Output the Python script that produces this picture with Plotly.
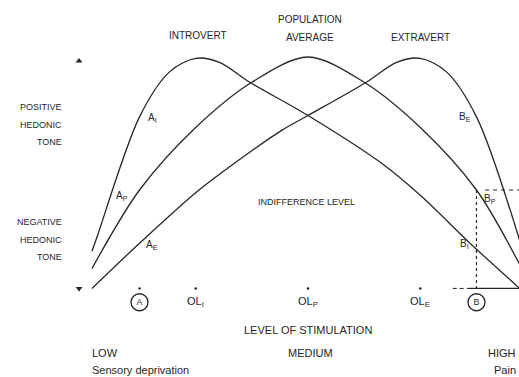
import plotly.graph_objects as go

# Hedonic tone (y) as a function of the level of stimulation (x).
# y = 0 is the indifference level.
intro_x = [0.0, 0.12, 1.1, 1.8, 2.4, 2.95, 3.65, 5.0, 6.75, 7.6, 8.75, 9.9]
intro_y = [-2.3, -1.75, 2.75, 4.45, 4.95, 4.8, 4.05, 2.8, 0.95, -0.2, -2.0, -3.7]

pop_x = [0.0, 1.1, 2.4, 3.7, 5.0, 6.3, 7.6, 8.9, 9.9]
pop_y = [-2.95, 0.0, 2.35, 4.05, 5.0, 4.05, 2.35, 0.0, -2.8]

extra_x = [0.0, 1.1, 2.4, 3.25, 4.4, 5.0, 6.35, 7.05, 7.6, 8.2, 8.9, 9.9]
extra_y = [-3.7, -2.0, -0.1, 0.95, 2.25, 2.8, 4.05, 4.8, 4.95, 4.45, 2.75, -1.9]

ol_labels = ["OL<sub>I</sub>", "OL<sub>P</sub>", "OL<sub>E</sub>"]
ol_x = [2.4, 5.0, 7.6]
point_a = 1.1
point_b = 8.9
floor_y = -3.7
axis_x = -0.3
axis_top = 4.85

INK = "#262626"
FONT = "Liberation Sans, Arial, sans-serif"

fig = go.Figure()

line_style = dict(color=INK, width=1.3, shape="spline", smoothing=0.9)
for xs, ys, name in [(intro_x, intro_y, "Introvert"),
                     (pop_x, pop_y, "Population average"),
                     (extra_x, extra_y, "Extravert")]:
    fig.add_trace(go.Scatter(x=xs, y=ys, mode="lines", line=line_style,
                             name=name, hoverinfo="skip"))

# hedonic tone axis arrows
fig.add_trace(go.Scatter(x=[axis_x, axis_x], y=[axis_top, floor_y], mode="markers",
                         marker=dict(symbol=["triangle-up", "triangle-down"], size=6,
                                     color=INK), hoverinfo="skip"))

# ticks on the stimulation scale
fig.add_trace(go.Scatter(x=[point_a] + ol_x, y=[floor_y] * 4, mode="markers",
                         marker=dict(size=2.5, color=INK), hoverinfo="skip"))

# guide lines at point B
fig.add_trace(go.Scatter(x=[point_b, point_b], y=[0, floor_y], mode="lines",
                         line=dict(color=INK, width=1.2, dash="dot"), hoverinfo="skip"))
fig.add_trace(go.Scatter(x=[point_b + 0.2, 9.9], y=[0, 0], mode="lines",
                         line=dict(color=INK, width=1.0, dash="4px,4px"), hoverinfo="skip"))
fig.add_trace(go.Scatter(x=[point_b - 0.55, point_b - 0.15], y=[floor_y, floor_y], mode="lines",
                         line=dict(color=INK, width=1.0, dash="4px,3px"), hoverinfo="skip"))
fig.add_trace(go.Scatter(x=[point_b - 0.15, 9.9], y=[floor_y, floor_y], mode="lines",
                         line=dict(color=INK, width=1.2), hoverinfo="skip"))

# circled reference points A and B
circle_y = floor_y - 0.52
fig.add_trace(go.Scatter(x=[point_a, point_b], y=[circle_y, circle_y], mode="markers+text",
                         text=["A", "B"], textposition="middle center",
                         textfont=dict(family=FONT, size=9, color=INK),
                         marker=dict(symbol="circle-open", size=17, color=INK,
                                     line=dict(color=INK, width=1.3)),
                         hoverinfo="skip"))


def note(text, x, y, size=10, anchor="center", xref="paper", yref="paper"):
    fig.add_annotation(text=text, x=x, y=y, xref=xref, yref=yref, showarrow=False,
                       xanchor=anchor, yanchor="middle",
                       font=dict(family=FONT, size=size, color=INK))


W, H = 519, 377


def px(xp, yp):
    return xp / W, 1 - yp / H


# curve titles
note("POPULATION", *px(310, 20), size=10)
note("AVERAGE", *px(310, 37), size=10)
note("INTROVERT", *px(198, 36), size=10)
note("EXTRAVERT", *px(420, 37), size=10)

# hedonic tone labels
for i, word in enumerate(["POSITIVE", "HEDONIC", "TONE"]):
    note(word, *px(64, 107 + 17.5 * i), size=9, anchor="right")
for i, word in enumerate(["NEGATIVE", "HEDONIC", "TONE"]):
    note(word, *px(64, 222 + 17.5 * i), size=9, anchor="right")

note("INDIFFERENCE LEVEL", *px(306, 202), size=9)

# tone at points A and B
note("A<sub>I</sub>", *px(152, 118), size=10)
note("A<sub>P</sub>", *px(122, 196), size=10)
note("A<sub>E</sub>", *px(152, 245), size=10)
note("B<sub>E</sub>", *px(465, 117), size=10)
note("B<sub>P</sub>", *px(490, 199), size=10)
note("B<sub>I</sub>", *px(464, 244), size=10)

# optimal levels
for lab, xv in zip(ol_labels, ol_x):
    fig.add_annotation(text=lab, x=xv, y=circle_y, xref="x", yref="y", showarrow=False,
                       font=dict(family=FONT, size=11, color=INK))

note("LEVEL OF STIMULATION", *px(308, 330), size=11)
note("MEDIUM", *px(310, 353), size=11)
note("LOW", *px(90, 353), size=11, anchor="left")
note("Sensory deprivation", *px(90, 370), size=11, anchor="left")
note("HIGH", *px(518, 353), size=11, anchor="right")
note("Pain", *px(518, 370), size=11, anchor="right")

fig.update_layout(
    width=W, height=H,
    margin=dict(l=0, r=0, t=0, b=0),
    paper_bgcolor="white", plot_bgcolor="white",
    showlegend=False,
    xaxis=dict(range=[-92 / 43.2, 427 / 43.2], visible=False, fixedrange=True),
    yaxis=dict(range=[-187 / 26.6, 190 / 26.6], visible=False, fixedrange=True),
)

fig.write_html("out.html")
